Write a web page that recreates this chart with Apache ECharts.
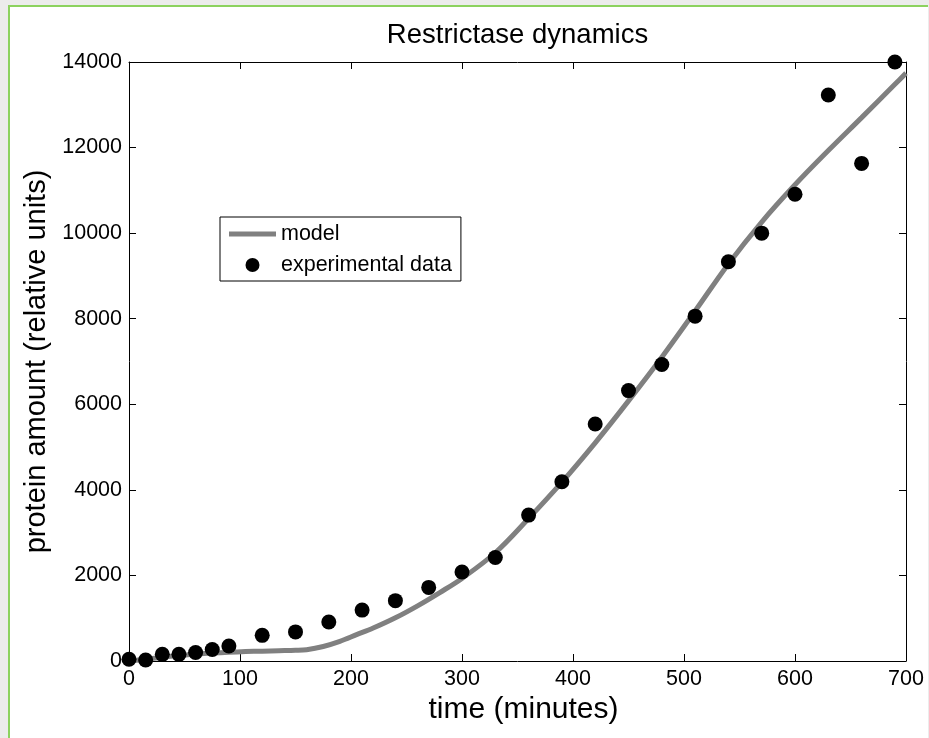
<!DOCTYPE html>
<html>
<head>
<meta charset="utf-8">
<script src="https://cdn.jsdelivr.net/npm/echarts@6/dist/echarts.min.js"></script>
<style>
  html, body { margin: 0; padding: 0; background: #ececec; }
  #frame { position: absolute; left: 8px; top: 5px; width: 918px; height: 733px;
           border-left: 2px solid #8cd25f; border-top: 2px solid #8cd25f; background: #fff; }
  #chart { position: absolute; left: 0; top: 0; width: 929px; height: 738px; }
</style>
</head>
<body>
<div id="frame"></div>
<div id="chart"></div>
<script>
// Measured protein amounts (relative units) at each sampling time (minutes)
const timeExp = [0, 15, 30, 45, 60, 75, 90, 120, 150, 180, 210, 240, 270, 300, 330, 360, 390, 420, 450, 480, 510, 540, 570, 600, 630, 660, 690];
const proteinExp = [40, 25, 155, 155, 200, 270, 350, 600, 680, 910, 1190, 1410, 1720, 2080, 2420, 3410, 4190, 5540, 6320, 6930, 8060, 9330, 10000, 10910, 13230, 11630, 14000];

// Model prediction
const timeModel = [0, 15, 30, 45, 60, 75, 90, 105, 120, 135, 150, 160, 175, 190, 205, 220, 240, 260, 280, 300, 330, 360, 390, 420, 450, 480, 510, 540, 570, 600, 630, 660, 690, 700];
const proteinModel = [0, 40, 90, 130, 160, 185, 205, 220, 230, 240, 250, 265, 340, 460, 615, 770, 1010, 1290, 1600, 1930, 2530, 3330, 4180, 5100, 6080, 7100, 8180, 9280, 10260, 11130, 11930, 12700, 13480, 13740];

// Axis ticks
const xTicks = [0, 100, 200, 300, 400, 500, 600, 700];
const yTicks = [0, 2000, 4000, 6000, 8000, 10000, 12000, 14000];

const FONT = 'Liberation Sans, Arial, sans-serif';

const chart = echarts.init(document.getElementById('chart'), null, { renderer: 'canvas' });

const pair = (xs, ys) => xs.map((x, i) => [x, ys[i]]);

const xStep = xTicks[1] - xTicks[0];
const yStep = yTicks[1] - yTicks[0];
const plain = v => String(v);

const baseX = {
  type: 'value',
  min: xTicks[0], max: xTicks[xTicks.length - 1], interval: xStep,
  axisLine: { show: true, onZero: false, lineStyle: { color: '#000', width: 1 } },
  axisTick: { show: true, inside: true, length: 7, lineStyle: { color: '#000' } },
  splitLine: { show: false }
};
const baseY = {
  type: 'value',
  min: yTicks[0], max: yTicks[yTicks.length - 1], interval: yStep,
  axisLine: { show: true, onZero: false, lineStyle: { color: '#000', width: 1 } },
  axisTick: { show: true, inside: true, length: 7, lineStyle: { color: '#000' } },
  splitLine: { show: false }
};

chart.setOption({
  animation: false,
  backgroundColor: 'transparent',
  title: {
    text: 'Restrictase dynamics',
    left: 517.5, top: 21, padding: 0,
    textAlign: 'center',
    textStyle: { fontFamily: FONT, fontSize: 27.5, fontWeight: 'normal', color: '#000' }
  },
  grid: { left: 129, top: 62, width: 777, height: 599, containLabel: false },
  legend: {
    orient: 'vertical',
    left: 220, top: 217,
    padding: [6, 9, 5, 9],
    itemGap: 9,
    itemWidth: 47, itemHeight: 14,
    backgroundColor: '#fff',
    borderColor: '#000', borderWidth: 1, borderRadius: 0,
    textStyle: { fontFamily: FONT, fontSize: 21.5, color: '#000' },
    data: [
      { name: 'model', icon: 'path://M0,0H47V5H0Z', itemStyle: { color: '#808080' } },
      { name: 'experimental data', icon: 'circle' }
    ]
  },
  xAxis: [
    Object.assign({}, baseX, {
      position: 'bottom',
      name: 'time (minutes)', nameLocation: 'middle', nameGap: 28,
      nameTextStyle: { fontFamily: FONT, fontSize: 30, color: '#000', padding: [0, 0, 0, 12] },
      axisLabel: { show: true, margin: 7, fontFamily: FONT, fontSize: 21.5, color: '#000', formatter: plain }
    }),
    Object.assign({}, baseX, { position: 'top', axisLabel: { show: false } })
  ],
  yAxis: [
    Object.assign({}, baseY, {
      position: 'left',
      name: 'protein amount (relative units)', nameLocation: 'middle', nameGap: 59,
      nameTextStyle: { fontFamily: FONT, fontSize: 29, color: '#000' },
      axisLabel: { show: true, margin: 7, fontFamily: FONT, fontSize: 21.5, color: '#000', formatter: plain }
    }),
    Object.assign({}, baseY, { position: 'right', axisLabel: { show: false } })
  ],
  series: [
    {
      name: 'model',
      type: 'line',
      xAxisIndex: 0, yAxisIndex: 0,
      data: pair(timeModel, proteinModel),
      showSymbol: false, symbol: 'none',
      smooth: 0.35,
      lineStyle: { color: '#808080', width: 5 },
      itemStyle: { color: '#808080' },
      z: 2
    },
    {
      name: 'experimental data',
      type: 'scatter',
      xAxisIndex: 0, yAxisIndex: 0,
      data: pair(timeExp, proteinExp),
      symbol: 'circle', symbolSize: 15,
      itemStyle: { color: '#000', opacity: 1 },
      z: 3
    }
  ]
});
</script>
</body>
</html>
